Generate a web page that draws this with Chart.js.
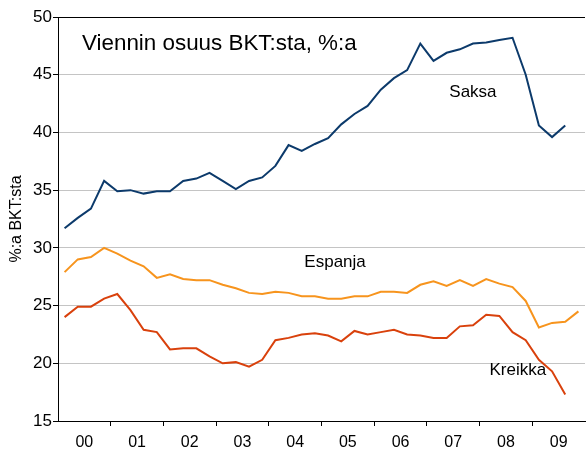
<!DOCTYPE html>
<html>
<head>
<meta charset="utf-8">
<script src="https://cdn.jsdelivr.net/npm/chart.js@4.4.1/dist/chart.umd.min.js"></script>
<style>
html,body{margin:0;padding:0;background:#fff;overflow:hidden;width:587px;height:452px;}
#wrap{width:587px;height:452px;overflow:hidden;position:relative;}
#c{position:absolute;left:0;top:0;}
</style>
</head>
<body>
<div id="wrap"><canvas id="c" width="592" height="452"></canvas></div>
<script>
// Quarterly, 2000Q1 .. 2009Q4
const yearLabels = ['00','01','02','03','04','05','06','07','08','09'];
const saksa = [31.7,32.6,33.4,35.8,34.9,35.0,34.7,34.9,34.9,35.8,36.0,36.5,35.8,35.1,35.8,36.1,37.1,38.9,38.4,39.0,
               39.5,40.7,41.6,42.3,43.7,44.7,45.4,47.7,46.2,46.9,47.2,47.7,47.8,48.0,48.2,45.0,40.6,39.6,40.6];
const espanja = [27.9,29.0,29.2,30.0,29.5,28.9,28.4,27.4,27.7,27.3,27.2,27.2,26.8,26.5,26.1,26.0,26.2,26.1,25.8,25.8,
                 25.6,25.6,25.8,25.8,26.2,26.2,26.1,26.8,27.1,26.7,27.2,26.7,27.3,26.9,26.6,25.4,23.1,23.5,23.6,24.5];
const kreikka = [24.0,24.9,24.9,25.6,26.0,24.6,22.9,22.7,21.2,21.3,21.3,20.6,20.0,20.1,19.7,20.3,22.0,22.2,22.5,22.6,
                 22.4,21.9,22.8,22.5,22.7,22.9,22.5,22.4,22.2,22.2,23.2,23.3,24.2,24.1,22.7,22.0,20.3,19.3,17.3];
const seriesNames = ['Saksa','Espanja','Kreikka'];
const yTicks = [15,20,25,30,35,40,45,50];
const titleText = 'Viennin osuus BKT:sta, %:a';
const yTitle = '%:a BKT:sta';
// label anchors in data units (quarter index, value)
const labelX = [29.7, 18.7, 32.75];
const labelY = [43.1, 28.3, 19.0];

const FONT = "'Liberation Sans', Arial, sans-serif";
const colors = ['#0c3a6b','#f7941d','#d9410c'];
const toPts = arr => arr.map((v,i)=>({x:i+0.5,y:v}));

const textPlugin = {
  id:'texts',
  afterDatasetsDraw(chart){
    const {ctx, scales:{x,y}, chartArea} = chart;
    ctx.save();
    ctx.fillStyle='#000';
    ctx.textBaseline='alphabetic';
    ctx.textAlign='left';
    ctx.font = "22.4px " + FONT;
    ctx.fillText(titleText, chartArea.left + 24, chartArea.top + 33);
    ctx.font = "17px " + FONT;
    seriesNames.forEach((n,i)=>{
      ctx.fillText(n, x.getPixelForValue(labelX[i]), y.getPixelForValue(labelY[i]));
    });
    ctx.restore();
  }
};

new Chart(document.getElementById('c'), {
  type:'line',
  data:{
    datasets:[
      {label:seriesNames[0], data:toPts(saksa), borderColor:colors[0]},
      {label:seriesNames[1], data:toPts(espanja), borderColor:colors[1]},
      {label:seriesNames[2], data:toPts(kreikka), borderColor:colors[2]}
    ]
  },
  options:{
    responsive:false,
    animation:false,
    events:[],
    layout:{padding:{top:17,right:1,left:0,bottom:0}},
    elements:{line:{borderWidth:2,tension:0,fill:false},point:{radius:0}},
    plugins:{legend:{display:false},tooltip:{enabled:false},title:{display:false}},
    scales:{
      x:{
        type:'linear', min:0, max:40,
        afterBuildTicks(s){ const t=[]; for(let v=0; v<=40; v+=2) t.push({value:v}); s.ticks=t; },
        afterFit(s){ s.height = 31; },
        grid:{drawOnChartArea:false, drawTicks:true, tickLength:5,
              tickColor:(c)=> (c.tick && c.tick.value%4===0 && c.tick.value>0 && c.tick.value<40) ? '#000' : 'rgba(0,0,0,0)'},
        border:{display:true,color:'#000',width:1},
        ticks:{autoSkip:false, maxRotation:0, padding:7, color:'#000', font:{family:FONT,size:16},
               callback:(v)=> (v%4===2) ? yearLabels[(v-2)/4] : ''}
      },
      y:{
        min:15, max:50,
        afterBuildTicks(s){ s.ticks = yTicks.map(v=>({value:v})); },
        afterFit(s){ s.width = 58; },
        grid:{color:(c)=> (c.tick && c.tick.value===50) ? '#000' : '#c4c4c4', lineWidth:1, drawTicks:true, tickLength:5, tickColor:'#000'},
        border:{display:true,color:'#000',width:1},
        ticks:{padding:1, color:'#000', font:{family:FONT,size:17}},
        title:{display:true, text:yTitle, color:'#000', font:{family:FONT,size:16}, padding:{top:7,bottom:0}}
      }
    }
  },
  plugins:[textPlugin]
});
</script>
</body>
</html>
